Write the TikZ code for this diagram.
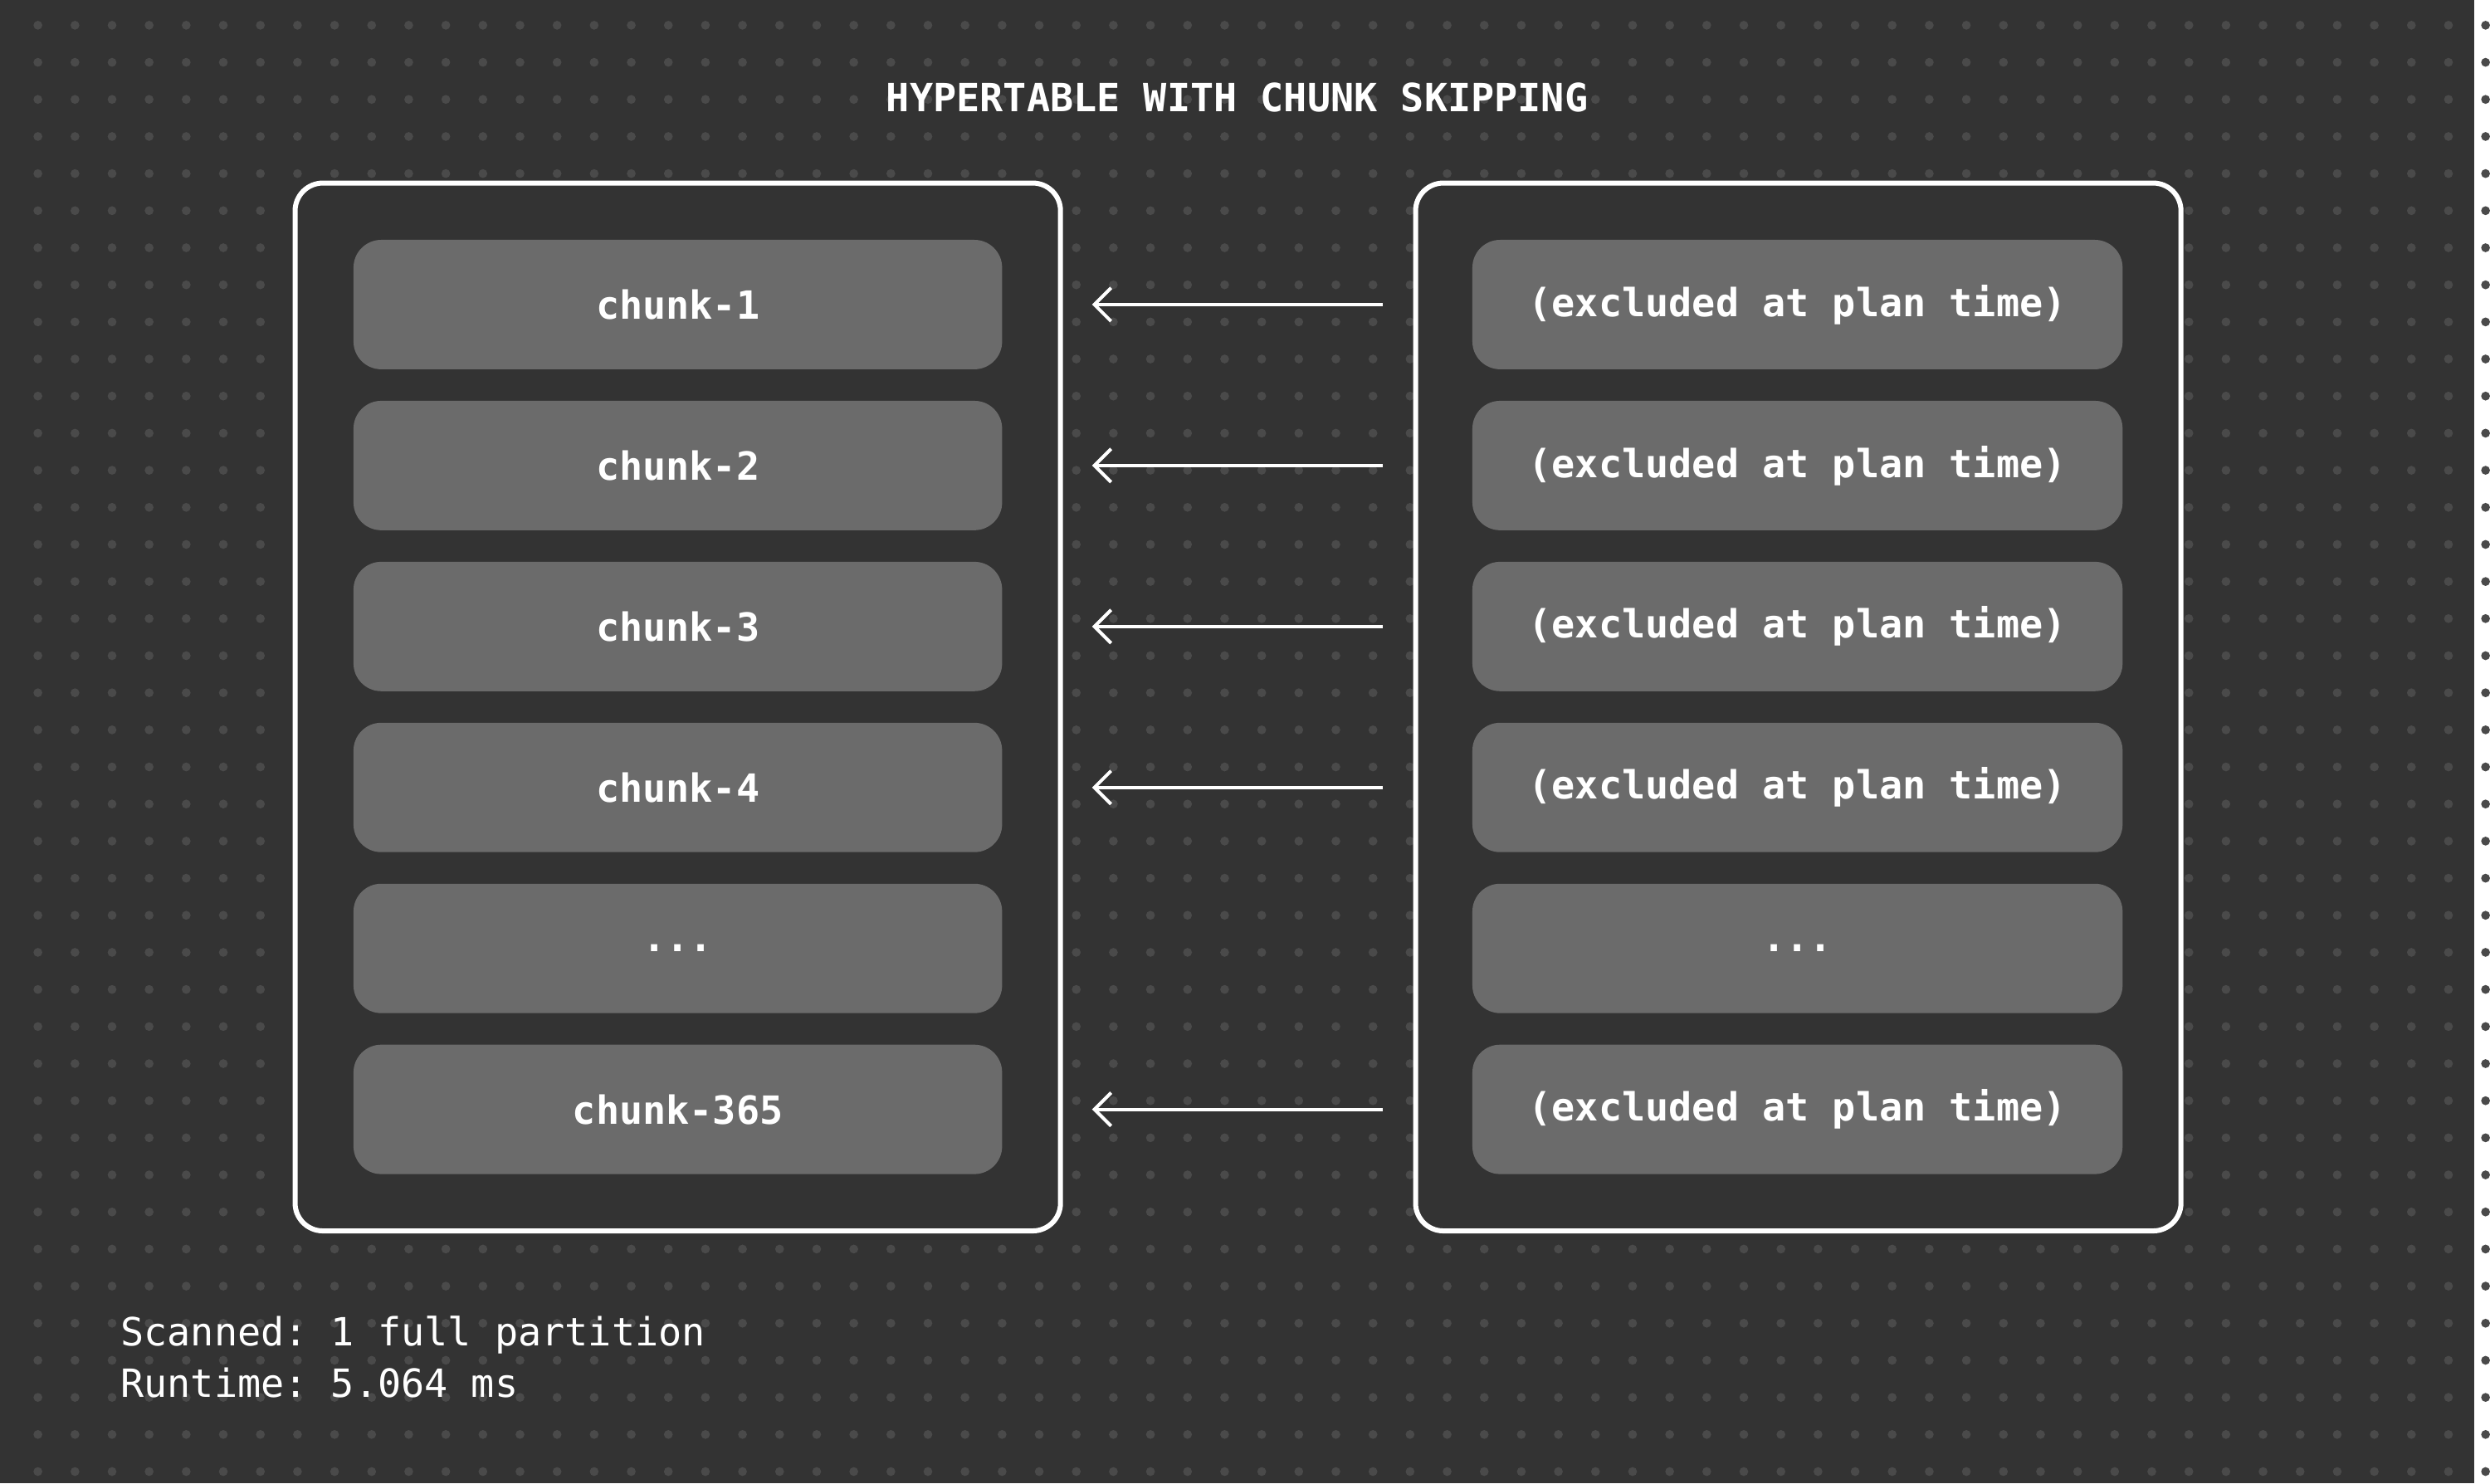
\documentclass[tikz,border=0pt]{standalone}
\usepackage{fontspec}
\setmonofont{DejaVu Sans Mono}
\usetikzlibrary{arrows.meta}
\definecolor{bgcol}{HTML}{333333}
\definecolor{chunkcol}{HTML}{6B6B6B}
\definecolor{dotcol}{HTML}{4A4A4A}
\newcommand{\moredots}{.{}.{}.}
\newcommand{\excl}{(excluded at plan time)}

\begin{document}
\begin{tikzpicture}[x=0.01cm, y=-0.01cm,
  frame/.style={draw=white, line width=0.9pt, rounded corners=5pt},
  chunk/.style={text=white, font=\ttfamily\bfseries\fontsize{7}{8}\selectfont},
  skip/.style={draw=white, line width=0.6pt, -{Straight Barb[length=3pt, width=6pt]}}]
\begin{scope}

  % background and grid
  \fill[bgcol] (0,0) rectangle (1568,940);
  \foreach \i in {0,...,66}
    \foreach \j in {0,...,39}
      \fill[dotcol] (24+23.5*\i, 16+23.5*\j) circle (0.8pt);

  % title
  \node[chunk] (title) at (784,62) {HYPERTABLE WITH CHUNK SKIPPING};

  % frames
  \draw[frame, fill=bgcol] (187,116) rectangle (672,780);
  \draw[frame, fill=bgcol] (897,116) rectangle (1382,780);

  % chunks
  \foreach \y/\l/\r [count=\n] in {193/chunk-1/\excl, 295/chunk-2/\excl,
      397/chunk-3/\excl, 499/chunk-4/\excl, 601/\moredots/\moredots,
      703/chunk-365/\excl} {
    \fill[chunkcol, rounded corners=5pt] (224,\y-41) rectangle (635,\y+41);
    \fill[chunkcol, rounded corners=5pt] (933,\y-41) rectangle (1345,\y+41);
    \node[chunk] (left\n) at (429.5,\y) {\l};
    \node[chunk] (right\n) at (1139,\y) {\r};
    \coordinate (from\n) at (876,\y);
    \coordinate (to\n) at (692,\y);
  }

  % arrows
  \foreach \n in {1,2,3,4,6}
    \draw[skip] (from\n) -- (to\n);

  % stats
  \node[anchor=west, text=white, align=left, font=\ttfamily\fontsize{7}{9.3}\selectfont] (stats)
        at (64,860) {Scanned: 1 full partition\\Runtime: 5.064 ms};
\end{scope}
\end{tikzpicture}
\end{document}
